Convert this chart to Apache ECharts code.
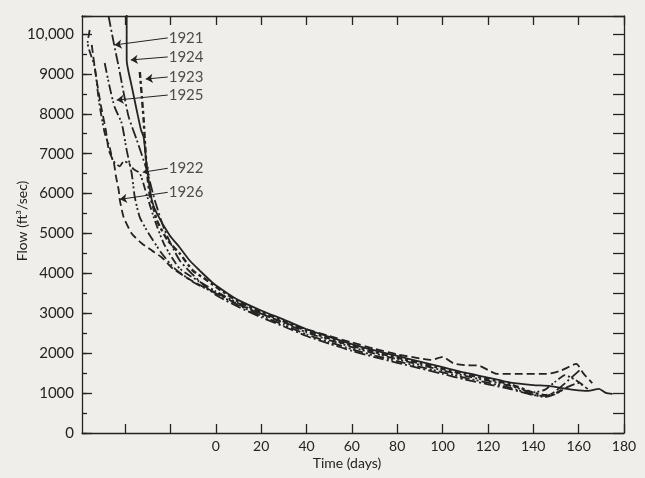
<!DOCTYPE html>
<html><head><meta charset="utf-8">
<script src="https://cdn.jsdelivr.net/npm/echarts@6/dist/echarts.min.js"></script>
<style>html,body{margin:0;padding:0;background:#efeeea;}#c{width:645px;height:478px;}</style>
</head><body><div id="c"></div>
<script>
// Recession curves: [time (days), flow (ft3/sec)]
const years = ['1921', '1922', '1923', '1924', '1925', '1926'];

const flow1921 = [[-47.3,10450],[-45,9776],[-42.8,9172],[-40.6,8519],[-38.4,7916],[-34.8,7338],[-30.4,6584],[-26.9,5830],[-22.5,5076],[-15.9,4322],[-7.1,3800],[0,3460],[10,3160],[20,2900],[30,2670],[40,2430],[50,2240],[60,2060],[70,1900],[80,1760],[90,1620],[100,1480],[110,1340],[120,1220],[130,1100],[140,950],[146,930],[152,1150],[157,1400],[161,1600]];

const flow1922 = [[-55.6,10100],[-56.5,9776],[-53.4,9172],[-51.6,8343],[-49,7514],[-46.8,7162],[-45.4,6835],[-42.3,6685],[-40.6,6810],[-38.4,6760],[-36.2,6609],[-33.5,6509],[-30.4,5956],[-26.9,5328],[-22.5,4699],[-15.9,4121],[-7.1,3790],[0,3550],[10,3250],[20,2990],[30,2760],[40,2520],[50,2330],[60,2150],[70,1990],[80,1850],[90,1710],[100,1570],[110,1430],[120,1310],[130,1180],[140,1020],[145,1080],[150,1300],[154,1450],[158,1350],[162,1200]];

const flow1923 = [[-33.5,9047],[-32.6,8419],[-31.8,7840],[-31.3,7338],[-30.4,6584],[-29.1,5956],[-27.8,5705],[-26,5328],[-21.2,4825],[-15.9,4498],[-10.1,4071],[-4,3830],[1.8,3590],[10,3290],[20,3030],[30,2800],[40,2560],[50,2370],[60,2190],[70,2030],[80,1890],[90,1750],[100,1610],[110,1470],[120,1350],[130,1220],[140,1010],[145,950],[150,1000],[153,1100]];

const flow1924 = [[-39.3,10700],[-39.3,9350],[-37,8670],[-34.8,8070],[-33,7600],[-31.8,7413],[-30.4,6660],[-28.2,5830],[-26,5503],[-20.3,4950],[-15.9,4649],[-11.5,4322],[-7.1,4071],[-1.3,3760],[4.9,3510],[10,3330],[20,3070],[30,2840],[40,2600],[50,2410],[60,2230],[70,2070],[80,1930],[90,1790],[100,1650],[110,1510],[120,1390],[130,1260],[140,1200],[147,1180],[152,1130],[158,1080],[164,1055],[169,1106],[172,1005],[175,980]];

const flow1925 = [[-49,9273],[-46.8,8670],[-44.6,8167],[-41.5,7765],[-39.3,7087],[-37.1,6509],[-35.7,5906],[-33.5,5403],[-29.6,5001],[-23.8,4498],[-18.1,4121],[-9.3,3760],[0,3500],[10,3200],[20,2940],[30,2710],[40,2470],[50,2280],[60,2100],[70,1940],[80,1800],[90,1660],[100,1520],[110,1380],[120,1260],[130,1130],[140,960],[145,900],[150,980],[155,1150],[160,1250],[164,1100]];

const flow1926 = [[-54.7,9725],[-52.9,8971],[-50.7,8218],[-48.5,7589],[-47.2,7087],[-45,6785],[-44.1,6458],[-42.8,6081],[-42.3,5830],[-40.6,5403],[-37.1,5001],[-32.6,4750],[-28.2,4574],[-23.8,4398],[-19,4121],[-11.5,3845],[-4.9,3644],[0,3520],[10,3220],[20,2990],[30,2770],[40,2600],[50,2430],[60,2270],[70,2110],[80,1970],[90,1870],[95,1830],[100,1910],[105,1740],[110,1700],[116,1690],[120,1580],[124,1480],[135,1480],[146,1480],[152,1560],[159,1730],[162,1500],[166,1250]];

const seriesValues = [flow1921, flow1922, flow1923, flow1924, flow1925, flow1926];

// Annotation label anchors and arrow targets (data coordinates)
const labelAnchors = [[-21.2,9901],[-21.2,6634],[-21.2,8921],[-21.2,9424],[-21.2,8469],[-21.2,6031]];
const arrowTargets = [[-44.6,9725],[-32.2,6534],[-30.9,8870],[-37.5,9349],[-43.7,8343],[-42.3,5855]];

const xTickValues = [-40,-20,0,20,40,60,80,100,120,140,160,180];
const xLabelValues = [0,20,40,60,80,100,120,140,160,180];

const ink = '#232323';
const font = 'Lato';
const dashStyles = [[11,3,2,3],[8,3,2,2,2,3],[6,3,3,3],'solid',[10,3,2,2,2,3],[8,4]];
const widths = [1.8,1.8,2.4,1.8,1.8,1.8];

const series = seriesValues.map((vals, i) => ({
  name: years[i],
  type: 'line',
  data: vals,
  showSymbol: false,
  smooth: 0.2,
  clip: true,
  lineStyle: { color: ink, width: widths[i], type: dashStyles[i] },
  markLine: {
    silent: true,
    symbol: ['none', 'arrow'],
    symbolSize: 7,
    label: { show: false },
    lineStyle: { color: ink, width: 1, type: 'solid' },
    data: [[{ coord: labelAnchors[i] }, { coord: arrowTargets[i] }]]
  }
}));

series.push({
  type: 'scatter',
  symbolSize: 0,
  silent: true,
  data: labelAnchors.map((p, i) => ({ name: years[i], value: p })),
  label: {
    show: true, position: 'right', distance: 1,
    formatter: p => p.name,
    fontSize: 15, color: ink, fontFamily: font
  }
});

const chart = echarts.init(document.getElementById('c'), null, { renderer: 'canvas' });
const lineStyle = { color: ink, width: 1.3 };
chart.setOption({
  animation: false,
  backgroundColor: '#efeeea',
  textStyle: { fontFamily: font },
  grid: { left: 82, right: 21, top: 16, bottom: 45 },
  xAxis: [
    { type: 'value', position: 'bottom', min: -59, max: 180,
      axisLine: { show: true, onZero: false, lineStyle },
      axisTick: { show: true, inside: true, length: 9, customValues: xTickValues, lineStyle },
      axisLabel: { customValues: xLabelValues, margin: 6, fontSize: 14, color: ink, fontFamily: font },
      splitLine: { show: false } },
    { type: 'value', position: 'top', min: -59, max: 180,
      axisLine: { show: true, onZero: false, lineStyle },
      axisTick: { show: true, inside: true, length: 9, customValues: xTickValues, lineStyle },
      axisLabel: { show: false },
      splitLine: { show: false } }
  ],
  yAxis: [
    { type: 'value', position: 'left', min: 0, max: 10450, interval: 1000,
      axisLine: { show: true, onZero: false, lineStyle },
      axisTick: { show: true, inside: true, length: 10, lineStyle },
      axisLabel: { margin: 8, fontSize: 15, color: ink, fontFamily: font,
        formatter: v => (v % 1000 !== 0 ? '' : (v >= 10000 ? '10,000' : String(v))) },
      splitLine: { show: false } },
    { type: 'value', position: 'left', min: 0, max: 10450, interval: 500,
      axisLine: { show: false, onZero: false },
      axisTick: { show: true, inside: true, length: 5, lineStyle },
      axisLabel: { show: false },
      splitLine: { show: false } },
    { type: 'value', position: 'right', min: 0, max: 10450, interval: 500,
      axisLine: { show: true, onZero: false, lineStyle },
      axisTick: { show: true, inside: true, length: 11, lineStyle },
      axisLabel: { show: false },
      splitLine: { show: false } }
  ],
  graphic: [
    { type: 'text', x: 22, y: 221, rotation: Math.PI / 2,
      style: { text: 'Flow (ft³/sec)', fontSize: 14, fontFamily: font, fill: ink, align: 'center', verticalAlign: 'middle' } },
    { type: 'text', x: 347, y: 463,
      style: { text: 'Time (days)', fontSize: 14, fontFamily: font, fill: ink, align: 'center', verticalAlign: 'middle' } }
  ],
  series
});
</script></body></html>
